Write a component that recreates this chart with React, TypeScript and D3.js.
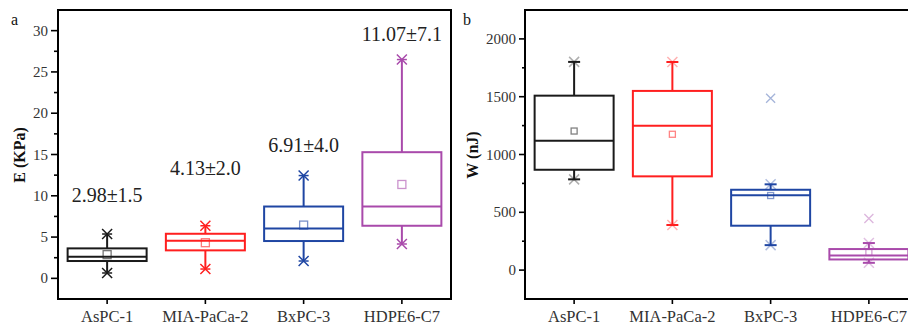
import * as d3 from "d3"

// categorías y estadísticos
const categorias = ["AsPC-1", "MIA-PaCa-2", "BxPC-3", "HDPE6-C7"]
const colores = ["#1a1a1a", "#ff1f1f", "#1f46a3", "#a94aab"]

// panel a: E (KPa)
const eMin = [0.65, 1.13, 2.1, 4.16]
const eQ1 = [2.1, 3.39, 4.52, 6.37]
const eMediana = [2.62, 4.56, 6.05, 8.7]
const eQ3 = [3.63, 5.4, 8.7, 15.28]
const eMax = [5.37, 6.37, 12.45, 26.5]
const eMedia = [2.87, 4.32, 6.45, 11.37]
const eEtiquetas = ["2.98±1.5", "4.13±2.0", "6.91±4.0", "11.07±7.1"]
const eEtiquetaY = [9.2, 12.5, 15.35, 28.8]
const eTicks = [0, 5, 10, 15, 20, 25, 30]

// panel b: W (nJ)
const wMin = [785, 390, 216, 63]
const wQ1 = [868, 811, 384, 92]
const wMediana = [1119, 1249, 647, 127]
const wQ3 = [1509, 1550, 695, 182]
const wMax = [1801, 1800, 742, 234]
const wMedia = [1203, 1175, 645, 153]
const wAtipicos = [
  { cat: 2, v: 1487 },
  { cat: 3, v: 447 },
]
const wTicks = [0, 500, 1000, 1500, 2000]

const FUENTE = "Liberation Serif"
const top = 10
const bottom = 299
const ancho = 393

function Panel({
  x0,
  dominio,
  ticks,
  menor,
  min,
  q1,
  med,
  q3,
  max,
  media,
  titulo,
  letra,
  variante,
}: any) {
  const x = d3.scaleBand().domain(categorias).range([x0, x0 + ancho]).padding(0)
  const y = d3.scaleLinear().domain(dominio).range([bottom, top])
  const menores = d3.range(dominio[0], dominio[1], menor).filter((v) => !ticks.includes(v) && v > dominio[0])
  const a = variante === "a"
  const anchoCaja = 79
  const tickMayor = a ? 7 : 6
  const tickMenor = a ? 4 : 3
  const tamMedia = a ? 8 : 6

  return (
    <g>
      {/* cajas */}
      {categorias.map((c, i) => {
        const cx = (x(c) || 0) + x.bandwidth() / 2
        const col = colores[i]
        const xs = 5
        return (
          <g key={c} stroke={col} fill="none">
            <line x1={cx} x2={cx} y1={y(q3[i])} y2={y(max[i])} strokeWidth={2} />
            <line x1={cx} x2={cx} y1={y(q1[i])} y2={y(min[i])} strokeWidth={2} />
            <rect x={cx - anchoCaja / 2} y={y(q3[i])} width={anchoCaja} height={y(q1[i]) - y(q3[i])} strokeWidth={2} />
            <line x1={cx - anchoCaja / 2} x2={cx + anchoCaja / 2} y1={y(med[i])} y2={y(med[i])} strokeWidth={2} />
            {[max[i], min[i]].map((v, k) => (
              <g key={k}>
                <line x1={cx - (a ? 5 : 6)} x2={cx + (a ? 5 : 6)} y1={y(v)} y2={y(v)} strokeWidth={a ? 1.5 : 2} />
                <path
                  d={`M${cx - xs},${y(v) - xs}L${cx + xs},${y(v) + xs}M${cx - xs},${y(v) + xs}L${cx + xs},${y(v) - xs}`}
                  strokeWidth={1.5}
                  opacity={a ? 1 : 0.35}
                />
              </g>
            ))}
            <rect
              x={cx - tamMedia / 2}
              y={y(media[i]) - tamMedia / 2}
              width={tamMedia}
              height={tamMedia}
              strokeWidth={1.3}
              opacity={a ? 0.6 : 0.55}
            />
          </g>
        )
      })}

      {!a &&
        wAtipicos.map((o, k) => {
          const cx = (x(categorias[o.cat]) || 0) + x.bandwidth() / 2
          const s = 4.5
          return (
            <path
              key={k}
              d={`M${cx - s},${y(o.v) - s}L${cx + s},${y(o.v) + s}M${cx - s},${y(o.v) + s}L${cx + s},${y(o.v) - s}`}
              stroke={colores[o.cat]}
              strokeWidth={1.3}
              opacity={0.4}
            />
          )
        })}

      {a &&
        categorias.map((c, i) => (
          <text
            key={c}
            x={(x(c) || 0) + x.bandwidth() / 2}
            y={y(eEtiquetaY[i])}
            textAnchor="middle"
            fontSize={20}
            fill="#222"
          >
            {eEtiquetas[i]}
          </text>
        ))}

      {/* marco */}
      <rect x={x0} y={top} width={ancho} height={bottom - top} fill="none" stroke="#000" strokeWidth={2} />

      {/* eje y */}
      {ticks.map((t: number) => (
        <g key={t}>
          <line x1={x0 - tickMayor} x2={x0} y1={y(t)} y2={y(t)} stroke="#000" strokeWidth={1.6} />
          <text x={x0 - tickMayor - 3} y={y(t)} dy="0.34em" textAnchor="end" fontSize={15} fill="#333">
            {t}
          </text>
        </g>
      ))}
      {menores.map((t: number) => (
        <line key={t} x1={x0 - tickMenor} x2={x0} y1={y(t)} y2={y(t)} stroke="#000" strokeWidth={1.6} />
      ))}

      {/* eje x */}
      {categorias.map((c) => {
        const cx = (x(c) || 0) + x.bandwidth() / 2
        return (
          <g key={c}>
            <line x1={cx} x2={cx} y1={bottom} y2={bottom + 5} stroke="#000" strokeWidth={1.6} />
            <text x={cx} y={322} textAnchor="middle" fontSize={16.5} fill="#333">
              {c}
            </text>
          </g>
        )
      })}

      <text
        transform={`translate(${a ? 25 : 478},155) rotate(-90)`}
        textAnchor="middle"
        fontSize={16}
        fontWeight="bold"
        fill="#111"
      >
        {titulo}
      </text>
      <text x={a ? 11 : 463} y={25} fontSize={16} fill="#111">
        {letra}
      </text>
    </g>
  )
}

export default function App() {
  return (
    <svg
      width={908}
      height={325}
      style={{ position: "absolute", left: 0, top: 0, background: "#fff", fontFamily: FUENTE }}
    >
      <rect width={908} height={325} fill="#fff" />
      <Panel
        x0={58}
        dominio={[-2.5, 32.5]}
        ticks={eTicks}
        menor={2.5}
        min={eMin}
        q1={eQ1}
        med={eMediana}
        q3={eQ3}
        max={eMax}
        media={eMedia}
        titulo="E (KPa)"
        letra="a"
        variante="a"
      />
      <Panel
        x0={525}
        dominio={[-250, 2250]}
        ticks={wTicks}
        menor={250}
        min={wMin}
        q1={wQ1}
        med={wMediana}
        q3={wQ3}
        max={wMax}
        media={wMedia}
        titulo="W (nJ)"
        letra="b"
        variante="b"
      />
    </svg>
  )
}
